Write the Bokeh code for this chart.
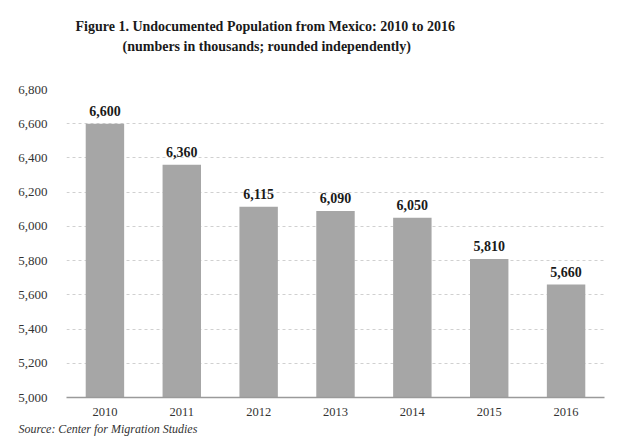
from bokeh.plotting import figure
from bokeh.models import ColumnDataSource, Title, NumeralTickFormatter, FixedTicker, Range1d, FactorRange
from bokeh.core.properties import value
from bokeh.embed import file_html
from bokeh.resources import INLINE

years = ["2010", "2011", "2012", "2013", "2014", "2015", "2016"]
population = [6600, 6360, 6115, 6090, 6050, 5810, 5660]
labels = ["6,600", "6,360", "6,115", "6,090", "6,050", "5,810", "5,660"]
y_ticks = [5000, 5200, 5400, 5600, 5800, 6000, 6200, 6400, 6600, 6800]
title_1 = "Figure 1. Undocumented Population from Mexico: 2010 to 2016"
title_2 = "(numbers in thousands; rounded independently)"
source_note = "Source:  Center for Migration Studies"

src = ColumnDataSource(dict(year=years, pop=population, label=labels))

p = figure(x_range=FactorRange(*years, range_padding=0), y_range=Range1d(5000, 6800),
           frame_width=538, frame_height=308, output_backend="svg", toolbar_location=None,
           min_border_left=66, min_border_right=6, min_border_top=89, min_border_bottom=44)
p.title = None
p.outline_line_color = None
p.background_fill_color = "white"
p.border_fill_color = "white"

p.vbar(x="year", top="pop", bottom=5000, width=0.5, source=src,
       fill_color="#a6a6a6", line_color=None)
p.text(x="year", y="pop", text="label", source=src, text_align="center",
       text_baseline="bottom", y_offset=-8, text_font=value("Liberation Serif"),
       text_font_style="bold", text_font_size="14px", text_color="#1a1a1a")

p.yaxis.ticker = FixedTicker(ticks=y_ticks)
p.yaxis.formatter = NumeralTickFormatter(format="0,0")
p.yaxis.axis_line_color = None
p.yaxis.major_tick_line_color = None
p.yaxis.minor_tick_line_color = None
p.yaxis.major_label_standoff = 13
p.yaxis.major_label_text_font = "Liberation Serif"
p.yaxis.major_label_text_font_size = "13px"
p.yaxis.major_label_text_color = "#333333"

p.xaxis.axis_line_color = "#9a9a9a"
p.xaxis.axis_line_width = 1.5
p.xaxis.major_tick_line_color = None
p.xaxis.minor_tick_line_color = None
p.xaxis.major_label_standoff = 4
p.xaxis.major_label_text_font = "Liberation Serif"
p.xaxis.major_label_text_font_size = "12.5px"
p.xaxis.major_label_text_color = "#333333"

p.xgrid.grid_line_color = None
p.ygrid.ticker = FixedTicker(ticks=y_ticks)
p.ygrid.grid_line_color = "#d0d0d0"
p.ygrid.grid_line_dash = "3 3"

# blank spacer between the frame and the title lines
p.add_layout(Title(text=" ", standoff=17, text_color="white",
                   text_font="Liberation Serif", text_font_size="14px"), "above")
p.add_layout(Title(text=title_2, align="left", offset=56, standoff=4,
                   text_font="Liberation Serif", text_font_style="bold",
                   text_font_size="14px", text_color="#1a1a1a"), "above")
p.add_layout(Title(text=title_1, align="left", offset=9, standoff=2,
                   text_font="Liberation Serif", text_font_style="bold",
                   text_font_size="14px", text_color="#1a1a1a"), "above")
p.add_layout(Title(text=source_note, align="left", offset=-48, standoff=2,
                   text_font="Liberation Serif", text_font_style="italic",
                   text_font_size="12px", text_color="#333333"), "below")

open("out.html", "w").write(file_html(p, INLINE))
